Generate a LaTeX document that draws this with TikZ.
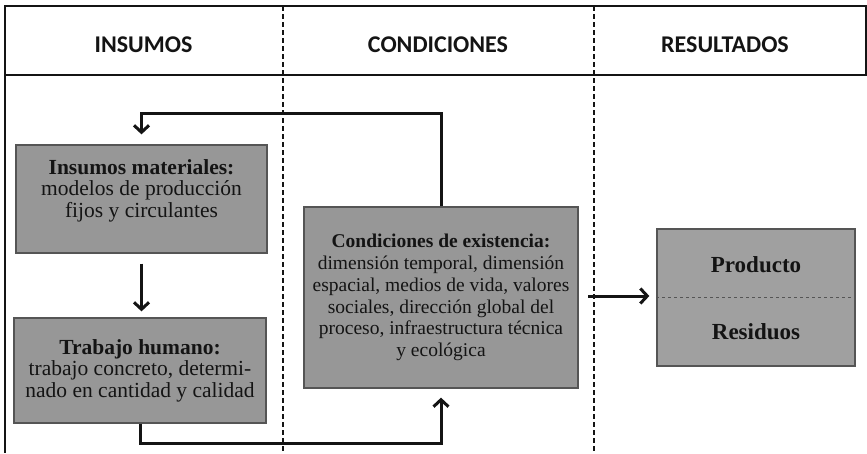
\documentclass[tikz,border=0pt]{standalone}
\usepackage{fontspec}
\setmainfont{Liberation Serif}
\newfontfamily\headfont{Carlito}
\usepackage{tikz}
\usetikzlibrary{arrows.meta}
\definecolor{ink}{HTML}{141414}
\definecolor{boxfill}{HTML}{979797}
\definecolor{boxline}{HTML}{555555}
\definecolor{resfill}{HTML}{A0A0A0}
\tikzset{
  frame/.style={draw=ink, line width=1.8pt},
  sep/.style={draw=ink, line width=1.5pt, dash pattern=on 5pt off 3pt},
  box/.style={draw=boxline, fill=boxfill, line width=1.3pt, text=ink, align=center, inner sep=0pt},
  flow/.style={draw=ink, line width=3pt, -{Straight Barb[length=7pt,width=15pt]}},
  head/.style={text=ink, font=\headfont\bfseries\fontsize{24}{28}\selectfont},
  txt/.style={font=\fontsize{21.5}{21.5}\selectfont},
  txts/.style={font=\fontsize{19.5}{21.7}\selectfont},
  big/.style={text=ink, font=\bfseries\fontsize{23}{26}\selectfont}
}
\begin{document}
\begin{tikzpicture}[x=1pt,y=-1pt]
  \useasboundingbox (0,0) rectangle (867,453);
  \fill[white] (0,0) rectangle (867,453);

  % frame and columns
  \draw[frame] (5,6) rectangle (866,75);
  \draw[frame] (5,75) -- (5,453);
  \draw[sep] (283,6) -- (283,453);
  \draw[sep] (594,6) -- (594,453);
  \node[head] (hins) at (143.5,45) {INSUMOS};
  \node[head] (hcon) at (438,45) {CONDICIONES};
  \node[head] (hres) at (725,45) {RESULTADOS};

  % boxes
  \node[box, txt, text depth=21pt, minimum width=251pt, minimum height=108pt] (mat) at (141.5,199)
    {\textbf{Insumos materiales:}\\modelos de producción\\fijos y circulantes};
  \node[box, txt, minimum width=252pt, minimum height=105pt] (hum) at (140,370.5)
    {\textbf{Trabajo humano:}\\trabajo concreto, determi-\\nado en cantidad y calidad};
  \node[box, txts, minimum width=274pt, minimum height=181pt] (cond) at (441,297.5)
    {\textbf{Condiciones de existencia:}\\dimensión temporal, dimensión\\espacial, medios de vida, valores\\sociales, dirección global del\\proceso, infraestructura técnica\\y ecológica};
  \node[box, fill=resfill, minimum width=198pt, minimum height=137pt] (res) at (756,297.5) {};
  \draw[boxline, line width=1pt, dashed] (res.west) -- (res.east);
  \node[big] (prod) at ([yshift=33pt]res.center) {Producto};
  \node[big] (resid) at ([yshift=-34pt]res.center) {Residuos};

  % connectors
  \coordinate (fb) at (290,113);
  \coordinate (bt) at (290,443);
  \coordinate (out) at (588,296);
  \draw[flow, shorten >=10pt] (cond.north) |- (fb) -| (mat.north);
  \draw[flow, shorten <=10pt, shorten >=6pt] (mat.south) -- (mat.south |- hum.north);
  \draw[flow, shorten >=9pt] (hum.south) |- (bt) -| (cond.south);
  \draw[flow, shorten >=7pt] (out) -- (out -| res.west);
\end{tikzpicture}
\end{document}
